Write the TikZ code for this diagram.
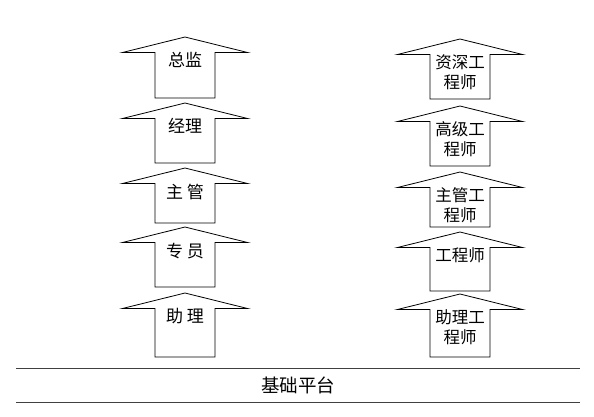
\documentclass[tikz,border=0pt]{standalone}
\usepackage{fontspec}
\setmainfont{Noto Sans CJK SC}
\usepackage{tikz}
\usetikzlibrary{calc}

\tikzset{
  uparrow/.style={draw=black, line width=0.8pt, line join=miter},
  lefttext/.style={anchor=north, inner sep=0pt, align=center, font=\fontsize{17}{20}\selectfont},
  righttext/.style={anchor=north, inner sep=0pt, align=center, font=\fontsize{16.5}{20}\selectfont},
  basetext/.style={font=\fontsize{18.5}{22}\selectfont},
  groundline/.style={draw=black!75, line width=1.2pt}
}

\begin{document}
\begin{tikzpicture}[x=1pt,y=-1pt]
\useasboundingbox (0,0) rectangle (594,417);
% left column
\foreach \t/\b/\name/\txt in {37/98/zj/总监, 103/163/jl/经理, 168/223/zg/主 管, 227/287/zy/专 员, 293/357/zl/助 理}{
  \draw[uparrow] (185,\t) -- (247.5,\t+15.5) -- (215,\t+15.5) -- (215,\b)
    -- (155,\b) -- (155,\t+15.5) -- (122.5,\t+15.5) -- cycle;
  \node[lefttext] (\name) at (185,\t+15.5) {\txt};
}
% right column
\foreach \t/\b/\name/\txt in {39/99/zsgcs/{资深工\\程师}, 106/166/gjgcs/{高级工\\程师}, 172/227/zggcs/{主管工\\程师}, 232/291/gcs/{工程师}, 294/357/zlgcs/{助理工\\程师}}{
  \draw[uparrow] (460,\t) -- (522.5,\t+15.5) -- (490,\t+15.5) -- (490,\b)
    -- (430,\b) -- (430,\t+15.5) -- (397.5,\t+15.5) -- cycle;
  \node[righttext] (\name) at (460,\t+15.5) {\txt};
}
% base
\draw[groundline] (16,368.3) -- (580,368.3);
\draw[groundline] (16,402.7) -- (580,402.7);
\node[basetext] (jcpt) at (298,385) {基础平台};
\end{tikzpicture}
\end{document}
